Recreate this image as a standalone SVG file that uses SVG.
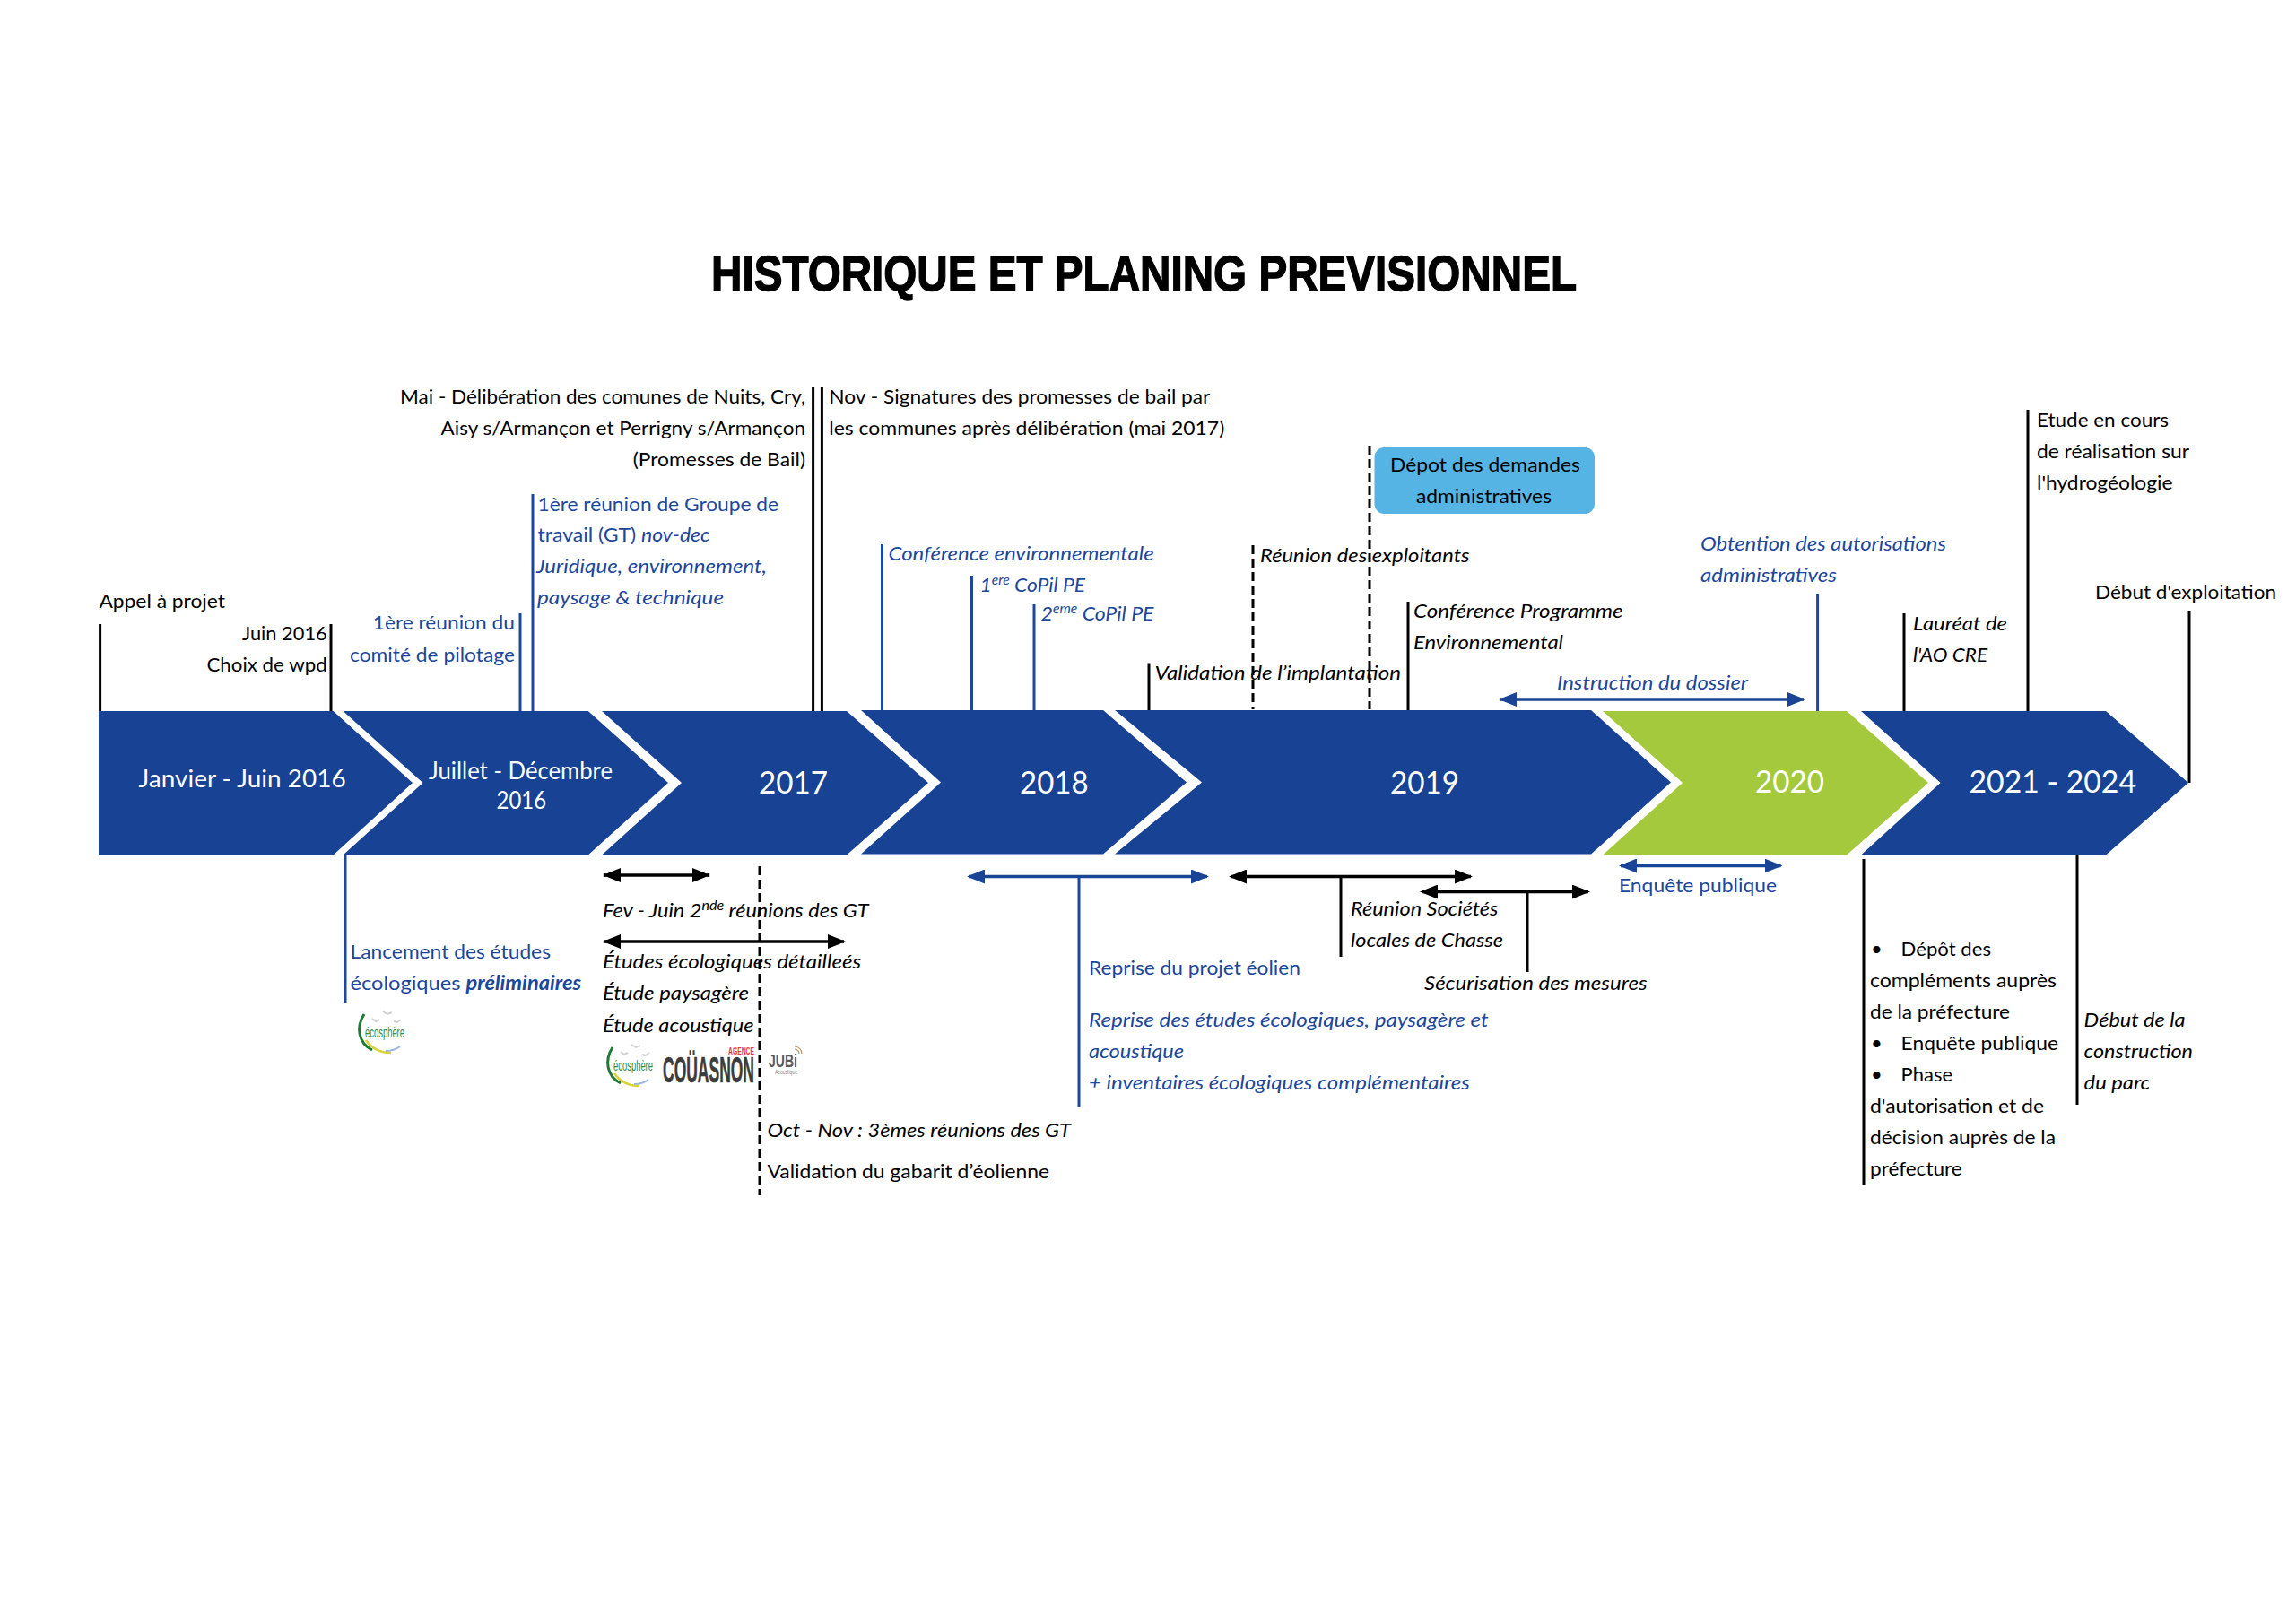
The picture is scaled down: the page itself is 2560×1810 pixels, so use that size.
<svg xmlns="http://www.w3.org/2000/svg" width="2560" height="1810" viewBox="0 0 2560 1810">
<style>
text{font-family:"Lato","Liberation Sans",sans-serif;font-size:22px;fill:#000}
.b{fill:#1c479b}
.i{font-style:italic}
.w{fill:#fff}
.m{font-size:26px}
.y{font-size:34px}
.s{font-size:15px}
.bl{stroke:#000;stroke-width:3;fill:none}
.bu{stroke:#1c479b;stroke-width:3;fill:none}
.d{stroke:#000;stroke-width:3;stroke-dasharray:10 5;fill:none}
.ab{stroke:#000;stroke-width:3.5;fill:none;marker-start:url(#mk);marker-end:url(#mk)}
.au{stroke:#1a4596;stroke-width:3.5;fill:none;marker-start:url(#mb);marker-end:url(#mb)}
.c{fill:#184294}
</style>
<defs>
<marker id="mk" markerUnits="userSpaceOnUse" viewBox="0 0 20 16" refX="18" refY="8" markerWidth="20" markerHeight="16" orient="auto-start-reverse"><path d="M0 0L20 8L0 16Z" fill="#000"/></marker>
<marker id="mb" markerUnits="userSpaceOnUse" viewBox="0 0 20 16" refX="18" refY="8" markerWidth="20" markerHeight="16" orient="auto-start-reverse"><path d="M0 0L20 8L0 16Z" fill="#1a4596"/></marker>
</defs>
<rect width="2560" height="1810" fill="#fff"/>
<g id="title"><text x="793" y="324" textLength="965" lengthAdjust="spacingAndGlyphs" style="font-family:'Liberation Sans',sans-serif;font-size:56px;font-weight:700;stroke:#000;stroke-width:1.4">HISTORIQUE ET PLANING PREVISIONNEL</text></g>

<g id="phase-2016-1"><polygon class="c" points="110,793 371.6,793 460,873 371.6,953.5 110,953.5"/><text class="w m" x="154.6" y="878" textLength="231" lengthAdjust="spacingAndGlyphs">Janvier - Juin 2016</text></g>
<g id="phase-2016-2"><polygon class="c" points="382.5,793 655.8,793 745,873 655.8,953.5 382.5,953.5 471.5,873"/><text class="w m" x="478" y="869.4" textLength="205" lengthAdjust="spacingAndGlyphs">Juillet - Décembre</text><text class="w m" x="553.6" y="902" textLength="55.4" lengthAdjust="spacingAndGlyphs">2016</text></g>
<g id="phase-2017"><polygon class="c" points="671,793 944,793 1035,873 944,953.5 671,953.5 760,873"/><text class="w y" x="846" y="884.5" textLength="77" lengthAdjust="spacingAndGlyphs">2017</text></g>
<g id="phase-2018"><polygon class="c" points="960,792 1230,792 1323,872.5 1230,952.5 960,952.5 1049,872.5"/><text class="w y" x="1137" y="884.5" textLength="76.6" lengthAdjust="spacingAndGlyphs">2018</text></g>
<g id="phase-2019"><polygon class="c" points="1243,792 1774,792 1863,872.5 1774,952.5 1243,952.5 1340,872.5"/><text class="w y" x="1550" y="884.5" textLength="77" lengthAdjust="spacingAndGlyphs">2019</text></g>
<g id="phase-2020"><polygon points="1787,793 2059,793 2150,873 2059,953.5 1787,953.5 1876,873" fill="#a5c93d"/><text class="w y" x="1957" y="884" textLength="77" lengthAdjust="spacingAndGlyphs">2020</text></g>
<g id="phase-2021"><polygon class="c" points="2075,793 2348,793 2440,873 2348,953.5 2075,953.5 2163.6,873"/><text class="w y" x="2195.5" y="884" textLength="186.5" lengthAdjust="spacingAndGlyphs">2021 - 2024</text></g>

<g id="connectors">
<line class="bl" x1="111.6" y1="696" x2="111.6" y2="793"/>
<line class="bl" x1="369" y1="696" x2="369" y2="793"/>
<line class="bu" x1="580" y1="684" x2="580" y2="793"/>
<line class="bu" x1="594" y1="551" x2="594" y2="793"/>
<line class="bl" x1="906.6" y1="432" x2="906.6" y2="793"/>
<line class="bl" x1="916.4" y1="432" x2="916.4" y2="793"/>
<line class="bu" x1="983.5" y1="607" x2="983.5" y2="792"/>
<line class="bu" x1="1083.5" y1="642" x2="1083.5" y2="792"/>
<line class="bu" x1="1153" y1="674" x2="1153" y2="792"/>
<line class="bl" x1="1281" y1="739.5" x2="1281" y2="792"/>
<line class="d" x1="1397" y1="608" x2="1397" y2="791"/>
<line class="d" x1="1527" y1="497" x2="1527" y2="791"/>
<line class="bl" x1="1570" y1="671" x2="1570" y2="792"/>
<line class="bu" x1="2026.6" y1="662" x2="2026.6" y2="793"/>
<line class="bl" x1="2123" y1="684" x2="2123" y2="793"/>
<line class="bl" x1="2261" y1="457" x2="2261" y2="793"/>
<line class="bl" x1="2441" y1="681" x2="2441" y2="873"/>
<line class="bu" x1="385" y1="953" x2="385" y2="1119"/>
<line class="d" x1="847" y1="966" x2="847" y2="1333"/>
<line class="bu" x1="1203" y1="977" x2="1203" y2="1235"/>
<line class="bl" x1="1495" y1="977" x2="1495" y2="1067"/>
<line class="bl" x1="1703" y1="994" x2="1703" y2="1084"/>
<line class="bl" x1="2078" y1="958" x2="2078" y2="1321"/>
<line class="bl" x1="2316" y1="953" x2="2316" y2="1232"/>
<line class="au" x1="1673" y1="780" x2="2011" y2="780"/>
<line class="au" x1="1807" y1="965.5" x2="1985.5" y2="965.5"/>
<line class="au" x1="1080" y1="977.5" x2="1346" y2="977.5"/>
<line class="ab" x1="674" y1="976" x2="790" y2="976"/>
<line class="ab" x1="674" y1="1050" x2="941" y2="1050"/>
<line class="ab" x1="1372" y1="977.5" x2="1640" y2="977.5"/>
<line class="ab" x1="1585" y1="994.6" x2="1771" y2="994.6"/>
</g>

<g id="note-appel"><text x="110.4" y="677.5" textLength="140.6" lengthAdjust="spacingAndGlyphs">Appel à projet</text></g>
<g id="note-juin"><text x="270" y="714" textLength="94.7" lengthAdjust="spacingAndGlyphs">Juin 2016</text><text x="230.4" y="748.5" textLength="134.3" lengthAdjust="spacingAndGlyphs">Choix de wpd</text></g>
<g id="note-copil-1"><text class="b" x="415.8" y="702" textLength="158" lengthAdjust="spacingAndGlyphs">1ère réunion du</text><text class="b" x="390" y="737.5" textLength="184" lengthAdjust="spacingAndGlyphs">comité de pilotage</text></g>
<g id="note-gt-1"><text class="b" x="599.5" y="569.5" textLength="268.6" lengthAdjust="spacingAndGlyphs">1ère réunion de Groupe de</text><text class="b" x="599.5" y="604.4" textLength="192" lengthAdjust="spacingAndGlyphs">travail (GT) <tspan class="i">nov-dec</tspan></text><text class="b i" x="598" y="639" textLength="257" lengthAdjust="spacingAndGlyphs">Juridique, environnement,</text><text class="b i" x="599" y="674" textLength="208" lengthAdjust="spacingAndGlyphs">paysage &amp; technique</text></g>
<g id="note-mai"><text x="446" y="450" textLength="452" lengthAdjust="spacingAndGlyphs">Mai - Délibération des comunes de Nuits, Cry,</text><text x="491.6" y="485" textLength="406.4" lengthAdjust="spacingAndGlyphs">Aisy s/Armançon et Perrigny s/Armançon</text><text x="705.7" y="520" textLength="192.3" lengthAdjust="spacingAndGlyphs">(Promesses de Bail)</text></g>
<g id="note-nov"><text x="924.3" y="450" textLength="425" lengthAdjust="spacingAndGlyphs">Nov - Signatures des promesses de bail par</text><text x="924.3" y="485" textLength="441" lengthAdjust="spacingAndGlyphs">les communes après délibération (mai 2017)</text></g>
<g id="note-conf-env"><text class="b i" x="990.6" y="625" textLength="296" lengthAdjust="spacingAndGlyphs">Conférence environnementale</text></g>
<g id="note-copil-pe-1"><text class="b i" x="1092.6" y="660" textLength="117.4" lengthAdjust="spacingAndGlyphs">1<tspan class="s" dy="-8">ere</tspan><tspan dy="8"> CoPil PE</tspan></text></g>
<g id="note-copil-pe-2"><text class="b i" x="1160.5" y="692" textLength="126" lengthAdjust="spacingAndGlyphs">2<tspan class="s" dy="-8">eme</tspan><tspan dy="8"> CoPil PE</tspan></text></g>
<g id="note-validation"><text class="i" x="1287.5" y="758" textLength="274.5" lengthAdjust="spacingAndGlyphs">Validation de l’implantation</text></g>
<g id="note-exploitants"><text class="i" x="1405" y="627" textLength="233.6" lengthAdjust="spacingAndGlyphs">Réunion des exploitants</text></g>
<g id="box-depot"><rect x="1532.5" y="499" width="245.5" height="74" rx="11" fill="#56b4e4"/><text x="1550" y="525.5" textLength="212" lengthAdjust="spacingAndGlyphs">Dépot des demandes</text><text x="1579" y="560.7" textLength="151" lengthAdjust="spacingAndGlyphs">administratives</text></g>
<g id="note-conf-prog"><text class="i" x="1576" y="689" textLength="233.6" lengthAdjust="spacingAndGlyphs">Conférence Programme</text><text class="i" x="1576" y="724" textLength="167" lengthAdjust="spacingAndGlyphs">Environnemental</text></g>
<g id="note-instruction"><text class="b i" x="1736" y="768.5" textLength="213" lengthAdjust="spacingAndGlyphs">Instruction du dossier</text></g>
<g id="note-obtention"><text class="b i" x="1896" y="614" textLength="274" lengthAdjust="spacingAndGlyphs">Obtention des autorisations</text><text class="b i" x="1896" y="649" textLength="152" lengthAdjust="spacingAndGlyphs">administratives</text></g>
<g id="note-laureat"><text class="i" x="2133" y="702.7" textLength="105" lengthAdjust="spacingAndGlyphs">Lauréat de</text><text class="i" x="2133" y="737.5" textLength="83" lengthAdjust="spacingAndGlyphs">l'AO CRE</text></g>
<g id="note-etude"><text x="2271" y="476" textLength="147" lengthAdjust="spacingAndGlyphs">Etude en cours</text><text x="2271" y="511" textLength="170" lengthAdjust="spacingAndGlyphs">de réalisation sur</text><text x="2271" y="546" textLength="151.5" lengthAdjust="spacingAndGlyphs">l'hydrogéologie</text></g>
<g id="note-exploitation"><text x="2336" y="667.5" textLength="202" lengthAdjust="spacingAndGlyphs">Début d'exploitation</text></g>
<g id="note-enquete"><text class="b" x="1805" y="995" textLength="176" lengthAdjust="spacingAndGlyphs">Enquête publique</text></g>
<g id="note-lancement"><text class="b" x="390.5" y="1068.5" textLength="223.5" lengthAdjust="spacingAndGlyphs">Lancement des études</text><text class="b" x="390.5" y="1103.7" textLength="257.5" lengthAdjust="spacingAndGlyphs">écologiques <tspan class="i" font-weight="700">préliminaires</tspan></text></g>
<g id="note-etudes-2017"><text class="i" x="672" y="1023" textLength="296.6" lengthAdjust="spacingAndGlyphs">Fev - Juin 2<tspan class="s" dy="-8">nde</tspan><tspan dy="8"> réunions des GT</tspan></text><text class="i" x="672" y="1080" textLength="288" lengthAdjust="spacingAndGlyphs">Études écologiques détailleés</text><text class="i" x="672" y="1115" textLength="163" lengthAdjust="spacingAndGlyphs">Étude paysagère</text><text class="i" x="672" y="1150.7" textLength="168.6" lengthAdjust="spacingAndGlyphs">Étude acoustique</text></g>
<g id="note-oct"><text class="i" x="855.5" y="1268" textLength="338.5" lengthAdjust="spacingAndGlyphs">Oct - Nov : 3èmes réunions des GT</text><text x="855.5" y="1314" textLength="314.5" lengthAdjust="spacingAndGlyphs">Validation du gabarit d’éolienne</text></g>
<g id="note-reprise"><text class="b" x="1214" y="1086.6" textLength="236" lengthAdjust="spacingAndGlyphs">Reprise du projet éolien</text><text class="b i" x="1214" y="1145" textLength="445.6" lengthAdjust="spacingAndGlyphs">Reprise des études écologiques, paysagère et</text><text class="b i" x="1214" y="1180" textLength="106" lengthAdjust="spacingAndGlyphs">acoustique</text><text class="b i" x="1214" y="1215" textLength="425" lengthAdjust="spacingAndGlyphs">+ inventaires écologiques complémentaires</text></g>
<g id="note-chasse"><text class="i" x="1506" y="1021" textLength="164.5" lengthAdjust="spacingAndGlyphs">Réunion Sociétés</text><text class="i" x="1506" y="1056" textLength="170" lengthAdjust="spacingAndGlyphs">locales de Chasse</text></g>
<g id="note-mesures"><text class="i" x="1588" y="1104" textLength="248.6" lengthAdjust="spacingAndGlyphs">Sécurisation des mesures</text></g>
<g id="note-depot-complements">
<text x="2086" y="1065.8">•</text><text x="2119.6" y="1065.8" textLength="100.4" lengthAdjust="spacingAndGlyphs">Dépôt des</text>
<text x="2085" y="1101" textLength="208" lengthAdjust="spacingAndGlyphs">compléments auprès</text>
<text x="2085" y="1136" textLength="156" lengthAdjust="spacingAndGlyphs">de la préfecture</text>
<text x="2086" y="1171">•</text><text x="2119.6" y="1171" textLength="175.4" lengthAdjust="spacingAndGlyphs">Enquête publique</text>
<text x="2086" y="1206">•</text><text x="2119.6" y="1206" textLength="57.4" lengthAdjust="spacingAndGlyphs">Phase</text>
<text x="2085" y="1241" textLength="194" lengthAdjust="spacingAndGlyphs">d'autorisation et de</text>
<text x="2085" y="1276" textLength="207" lengthAdjust="spacingAndGlyphs">décision auprès de la</text>
<text x="2085" y="1311" textLength="102.7" lengthAdjust="spacingAndGlyphs">préfecture</text>
</g>
<g id="note-construction"><text class="i" x="2323.6" y="1144.6" textLength="113" lengthAdjust="spacingAndGlyphs">Début de la</text><text class="i" x="2323.6" y="1180" textLength="121.4" lengthAdjust="spacingAndGlyphs">construction</text><text class="i" x="2323.6" y="1215" textLength="73.8" lengthAdjust="spacingAndGlyphs">du parc</text></g>

<g id="logo-ecosphere-1">
<path d="M406 1131C397 1145 399 1163 415 1171" fill="none" stroke="#1f7a35" stroke-width="3"/>
<path d="M408 1160C415 1170 425 1174 436 1174" fill="none" stroke="#d9d438" stroke-width="2.5"/>
<path d="M430 1172C436 1172 442 1170 446 1167" fill="none" stroke="#9db8dc" stroke-width="2"/>
<path d="M427 1128l5 3l5-2M415 1136l4 3l4-2M447 1137l-4 3l-4-1" fill="none" stroke="#cfd4cf" stroke-width="2"/>
<text x="407" y="1157" textLength="44" lengthAdjust="spacingAndGlyphs" style="font-family:'Liberation Sans',sans-serif;font-size:17px;fill:#2f8a4a">écosphère</text>
</g>
<g id="logo-ecosphere-2" transform="translate(277 37)">
<path d="M406 1131C397 1145 399 1163 415 1171" fill="none" stroke="#1f7a35" stroke-width="3"/>
<path d="M408 1160C415 1170 425 1174 436 1174" fill="none" stroke="#d9d438" stroke-width="2.5"/>
<path d="M430 1172C436 1172 442 1170 446 1167" fill="none" stroke="#9db8dc" stroke-width="2"/>
<path d="M427 1128l5 3l5-2M415 1136l4 3l4-2M447 1137l-4 3l-4-1" fill="none" stroke="#cfd4cf" stroke-width="2"/>
<text x="407" y="1157" textLength="44" lengthAdjust="spacingAndGlyphs" style="font-family:'Liberation Sans',sans-serif;font-size:17px;fill:#2f8a4a">écosphère</text>
</g>
<g id="logo-couasnon">
<text x="739" y="1207" textLength="102" lengthAdjust="spacingAndGlyphs" style="font-family:'Liberation Sans',sans-serif;font-weight:700;font-size:40px;fill:#3c3c3c;stroke:#3c3c3c;stroke-width:.6">COÜASNON</text>
<text x="812" y="1176" textLength="29" lengthAdjust="spacingAndGlyphs" style="font-family:'Liberation Sans',sans-serif;font-weight:700;font-size:11px;fill:#f0304a">AGENCE</text>
</g>
<g id="logo-jubi">
<text x="857" y="1190" textLength="32" lengthAdjust="spacingAndGlyphs" style="font-family:'Liberation Sans',sans-serif;font-weight:700;font-size:20px;fill:#5a5a5a">JUBi</text>
<text x="864" y="1198" textLength="25" lengthAdjust="spacingAndGlyphs" style="font-family:'Liberation Sans',sans-serif;font-size:7px;fill:#888">Acoustique</text>
<path d="M886 1170a5 5 0 0 1 5 5M886 1167a8 8 0 0 1 8 8" fill="none" stroke="#b39a6a" stroke-width="1.2"/>
</g>
</svg>
